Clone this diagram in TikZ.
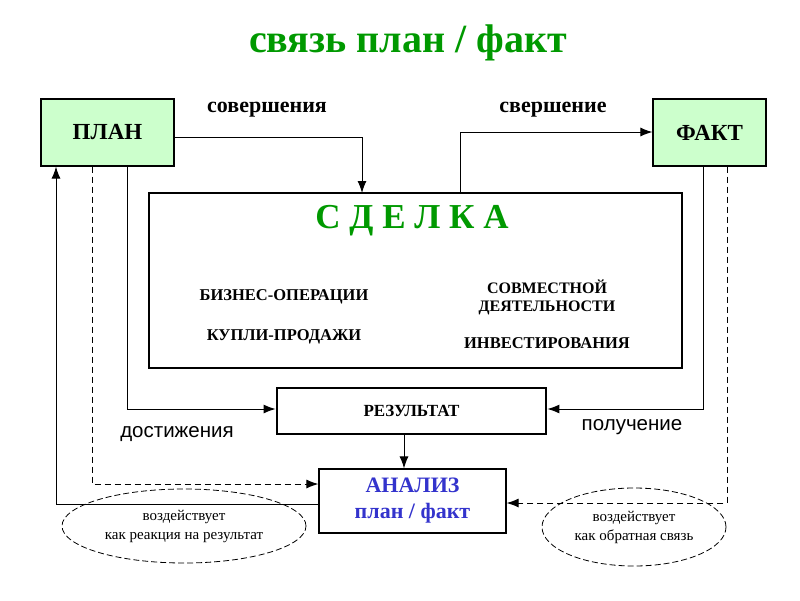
\documentclass[tikz,border=0pt]{standalone}
\usepackage{fontspec}
\setmainfont{Liberation Serif}
\newfontfamily\sans{Liberation Sans}
\usetikzlibrary{arrows.meta,shapes.geometric}
\definecolor{tgreen}{RGB}{0,153,0}
\definecolor{lgreen}{RGB}{204,255,204}
\definecolor{tblue}{RGB}{51,51,204}
\begin{document}
\begin{tikzpicture}[x=1pt,y=-1pt,
  box/.style={draw,line width=1.2pt,inner sep=0pt},
  thick box/.style={draw,line width=2.8pt,inner sep=0pt},
  arr/.style={-{Latex[length=12pt,width=9pt]},line width=1pt},
  dsh/.style={arr,dash pattern=on 6pt off 4pt},
  sm/.style={font=\bfseries\fontsize{16.5}{19}\selectfont,align=center},
  ell/.style={draw,dash pattern=on 6pt off 3pt,line width=0.8pt,ellipse,inner sep=0pt}]
\useasboundingbox (0,0) rectangle (800,600);
\node[font=\bfseries\fontsize{40}{44}\selectfont,text=tgreen] (title) at (408,43) {связь план / факт};
\node[box,fill=lgreen,minimum width=133pt,minimum height=67pt,font=\bfseries\fontsize{23}{25}\selectfont] (plan) at (107.5,132.5) {ПЛАН};
\node[box,fill=lgreen,minimum width=113pt,minimum height=67pt,font=\bfseries\fontsize{23}{25}\selectfont] (fact) at (709.5,132.5) {ФАКТ};
\node[thick box,minimum width=533pt,minimum height=175pt] (deal) at (415.5,280.5) {};
\node[font=\bfseries\fontsize{35}{37}\selectfont,text=tgreen] (dt) at (412,221) {С Д Е Л К А};
\node[sm] (t1) at (284,297) {БИЗНЕС-ОПЕРАЦИИ};
\node[sm] (t2) at (284,337) {КУПЛИ-ПРОДАЖИ};
\node[sm,font=\bfseries\fontsize{16}{18}\selectfont] (t3) at (547,297) {СОВМЕСТНОЙ\\ДЕЯТЕЛЬНОСТИ};
\node[sm] (t4) at (547,343) {ИНВЕСТИРОВАНИЯ};
\node[thick box,minimum width=269pt,minimum height=46pt,font=\bfseries\fontsize{17}{19}\selectfont] (res) at (411.5,411) {РЕЗУЛЬТАТ};
\node[box,minimum width=187pt,minimum height=64pt,font=\bfseries\fontsize{22}{26}\selectfont,text=tblue,align=center] (an) at (412.5,501) {АНАЛИЗ\\план / факт};
\node[font=\bfseries\fontsize{22}{24}\selectfont] (l1) at (267,110) {совершения};
\node[font=\bfseries\fontsize{22}{24}\selectfont] (l2) at (553,110) {свершение};
\node[font=\sans\fontsize{20.5}{23}\selectfont] (l3) at (177,434) {достижения};
\node[font=\sans\fontsize{20.5}{23}\selectfont] (l4) at (632,427) {получение};
\node[ell,minimum width=244pt,minimum height=74pt,align=center,font=\fontsize{15}{19}\selectfont] (e1) at (184,526) {воздействует\\как реакция на результат};
\node[ell,minimum width=184pt,minimum height=78pt,align=center,font=\fontsize{15}{19}\selectfont] (e2) at (634,527) {воздействует\\как обратная связь};
% connectors
\draw[arr] (plan.east |- 0,137) -- (362,137) -- (362,193);
\draw[arr] (460,193) -- (460,132) -- (fact.west |- 0,132);
\draw[arr] (plan.south -| 127,0) -- (127,409) -- (res.west |- 0,409);
\draw[arr] (fact.south -| 703,0) -- (703,409) -- (res.east |- 0,409);
\draw[arr] (res.south -| 404,0) -- (an.north -| 404,0);
\draw[dsh] (plan.south -| 92,0) -- (92,484) -- (an.west |- 0,484);
\draw[dsh] (fact.south -| 727,0) -- (727,503) -- (an.east |- 0,503);
\draw[arr] (an.west |- 0,504) -- (56,504) -- (plan.south -| 56,0);
\end{tikzpicture}
\end{document}
